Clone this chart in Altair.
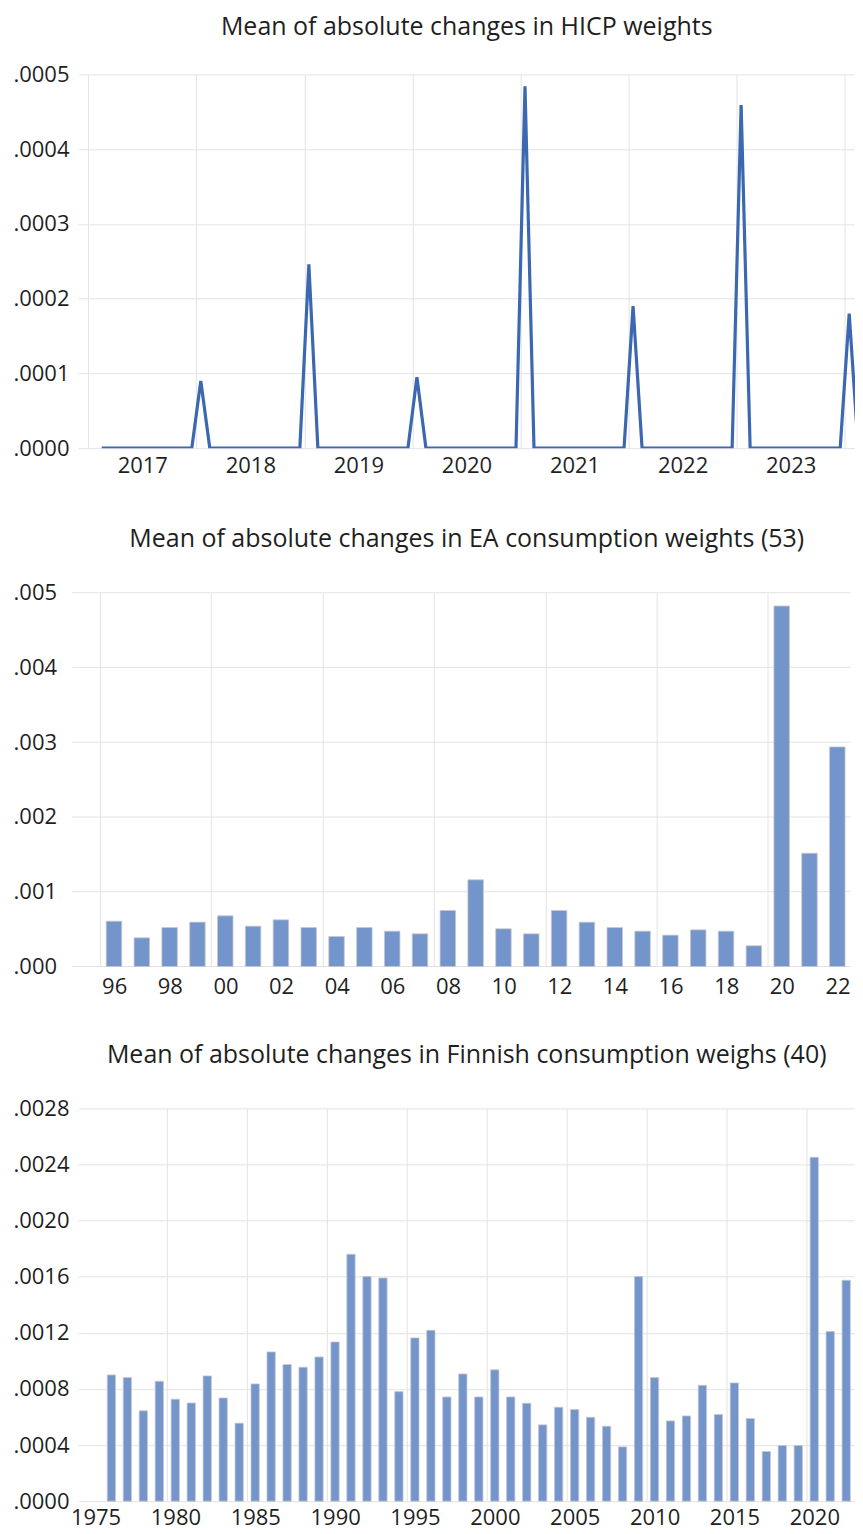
import altair as alt
import pandas as pd

FONT = "Open Sans"
TEXT = "#1f1f1f"
LINE_COLOR = "#3b68b0"
BAR_COLOR = "#7395cc"
BAR_EDGE = "#c8c8c8"
GRID = "#e3e3e3"

# ---------------- Panel 1: monthly HICP weights (Feb 2017 - Feb 2024) ----------------
hicp_start = (2017, 2)
hicp_values = [
    # 2017 Feb..Dec
    0, 0, 0, 0, 0, 0, 0, 0, 0, 0, 0,
    # 2018
    0.000090, 0, 0, 0, 0, 0, 0, 0, 0, 0, 0, 0,
    # 2019
    0.000246, 0, 0, 0, 0, 0, 0, 0, 0, 0, 0, 0,
    # 2020
    0.000095, 0, 0, 0, 0, 0, 0, 0, 0, 0, 0, 0,
    # 2021
    0.000484, 0, 0, 0, 0, 0, 0, 0, 0, 0, 0, 0,
    # 2022
    0.000190, 0, 0, 0, 0, 0, 0, 0, 0, 0, 0, 0,
    # 2023
    0.000459, 0, 0, 0, 0, 0, 0, 0, 0, 0, 0, 0,
    # 2024 Jan..Feb
    0.000180, 0,
]
hicp_years_grid = [2017, 2018, 2019, 2020, 2021, 2022, 2023, 2024]
hicp_y_ticks = [0.0, 0.0001, 0.0002, 0.0003, 0.0004, 0.0005]

# ---------------- Panel 2: EA consumption weights, annual 1996-2022 ----------------
ea_years = list(range(1996, 2023))
ea_values = [
    0.000606, 0.000383, 0.000521, 0.000593, 0.000677, 0.000539, 0.000624,
    0.000521, 0.000401, 0.000521, 0.000472, 0.000437, 0.000749, 0.001159,
    0.000504, 0.000437, 0.000749, 0.000593, 0.000521, 0.000472, 0.000419,
    0.000490, 0.000472, 0.000277, 0.004822, 0.001515, 0.002937,
]
ea_tick_positions = [1995.5, 1997.5, 1999.5, 2001.5, 2003.5, 2005.5, 2007.5,
                     2009.5, 2011.5, 2013.5, 2015.5, 2017.5, 2019.5, 2021.5]
ea_y_ticks = [0.0, 0.001, 0.002, 0.003, 0.004, 0.005]

# ---------------- Panel 3: Finnish consumption weights, annual 1976-2022 ----------------
fi_years = list(range(1976, 2023))
fi_values = [
    0.000900, 0.000881, 0.000644, 0.000855, 0.000727, 0.000700, 0.000893,
    0.000736, 0.000556, 0.000836, 0.001064, 0.000974, 0.000955, 0.001028,
    0.001135, 0.001760, 0.001601, 0.001591, 0.000781, 0.001164, 0.001218,
    0.000743, 0.000907, 0.000743, 0.000936, 0.000743, 0.000698, 0.000544,
    0.000670, 0.000653, 0.000598, 0.000534, 0.000387, 0.001601, 0.000881,
    0.000572, 0.000608, 0.000826, 0.000618, 0.000843, 0.000589, 0.000354,
    0.000397, 0.000397, 0.002451, 0.001209, 0.001575,
]
fi_tick_positions = [1974.5, 1979.5, 1984.5, 1989.5, 1994.5, 1999.5, 2004.5,
                     2009.5, 2014.5, 2019.5]
fi_y_ticks = [0.0, 0.0004, 0.0008, 0.0012, 0.0016, 0.0020, 0.0024, 0.0028]

# ---------------- tables ----------------
rows = []
y, m = hicp_start
for v in hicp_values:
    rows.append({"t": y + (m - 0.5) / 12.0, "v": v})
    m += 1
    if m > 12:
        m = 1
        y += 1
df_top = pd.DataFrame(rows)
df_mid = pd.DataFrame({"year": ea_years, "v": ea_values})
df_bot = pd.DataFrame({"year": fi_years, "v": fi_values})

PLOT_W = 778
TOP_DOM = [2016.905, 2024.1]
MID_DOM = [1994.885, 2022.474]
BOT_DOM = [1974.22, 2022.27]


def half_year_px(dom):
    return PLOT_W / (dom[1] - dom[0]) / 2.0


def y_axis(ticks, fmt, pad, grid=True):
    return alt.Axis(values=ticks, labelExpr=f"substring(format(datum.value, '{fmt}'), 1)",
                    title=None, domain=False, ticks=False, tickSize=0, labelPadding=pad,
                    grid=grid, gridColor=GRID, labelFlush=False)


def title(text, offset):
    return alt.TitleParams(text, anchor="middle", frame="group", font=FONT, fontSize=25,
                           fontWeight="normal", color=TEXT, offset=offset)


# ---- top: line ----
top = alt.Chart(df_top).mark_line(color=LINE_COLOR, strokeWidth=3.2, clip=True).encode(
    x=alt.X("t:Q", scale=alt.Scale(domain=TOP_DOM, nice=False, zero=False),
            axis=alt.Axis(values=hicp_years_grid,
                          labelExpr="datum.value >= 2024 ? '' : toString(datum.value)",
                          labelOffset=half_year_px(TOP_DOM), title=None, domain=False,
                          ticks=False, tickSize=0, grid=True, gridColor=GRID,
                          labelFlush=False, labelPadding=7)),
    y=alt.Y("v:Q", scale=alt.Scale(domain=[0, 0.0005], nice=False),
            axis=y_axis(hicp_y_ticks, ".4f", 9)),
).properties(width=PLOT_W, height=374,
             title=title("Mean of absolute changes in HICP weights", 23.5))

# ---- middle: bars (horizontal grid drawn as rules so it starts left of the plot) ----
mid_x_axis = alt.Axis(values=ea_tick_positions,
                      labelExpr="substring(toString(datum.value + 0.5), 2)",
                      labelOffset=half_year_px(MID_DOM), title=None, domain=False,
                      ticks=False, tickSize=0, grid=True, gridColor=GRID,
                      labelFlush=False, labelPadding=9.7,
                      gridOpacity={"condition": {"test": "datum.value % 4 == 3.5", "value": 1},
                                   "value": 0})
mid_y_axis = y_axis(ea_y_ticks, ".3f", 21.4, grid=False)
mid_x_scale = alt.Scale(domain=MID_DOM, nice=False, zero=False)
mid_y_scale = alt.Scale(domain=[0, 0.005], nice=False)

df_mid_grid = pd.DataFrame({"gy": ea_y_ticks, "gx0": [1994.5] * len(ea_y_ticks),
                            "gx1": [MID_DOM[1]] * len(ea_y_ticks)})
mid_grid = alt.Chart(df_mid_grid).mark_rule(color=GRID, strokeWidth=1).encode(
    x=alt.X("gx0:Q", scale=mid_x_scale, axis=mid_x_axis),
    x2="gx1:Q",
    y=alt.Y("gy:Q", scale=mid_y_scale, axis=mid_y_axis),
)
mid_bars = alt.Chart(df_mid).mark_bar(size=15.5, color=BAR_COLOR, stroke=BAR_EDGE,
                                      strokeWidth=0.8).encode(
    x=alt.X("year:Q", scale=mid_x_scale, axis=mid_x_axis),
    y=alt.Y("v:Q", scale=mid_y_scale, axis=mid_y_axis),
)
mid = alt.layer(mid_grid, mid_bars).properties(
    width=PLOT_W, height=374,
    title=title("Mean of absolute changes in EA consumption weights (53)", 29.5))

# ---- bottom: bars ----
bot = alt.Chart(df_bot).mark_bar(size=8.3, color=BAR_COLOR, stroke=BAR_EDGE,
                                 strokeWidth=0.8).encode(
    x=alt.X("year:Q", scale=alt.Scale(domain=BOT_DOM, nice=False, zero=False),
            axis=alt.Axis(values=fi_tick_positions,
                          labelExpr="toString(datum.value + 0.5)",
                          labelOffset=half_year_px(BOT_DOM), title=None, domain=False,
                          ticks=False, tickSize=0, grid=True, gridColor=GRID,
                          labelFlush=False, labelPadding=6.7,
                          gridOpacity={"condition": {"test": "datum.value > 1975", "value": 1},
                                       "value": 0})),
    y=alt.Y("v:Q", scale=alt.Scale(domain=[0, 0.0028], nice=False),
            axis=y_axis(fi_y_ticks, ".4f", 9)),
).properties(width=PLOT_W, height=393,
             title=title("Mean of absolute changes in Finnish consumption weighs (40)", 29.5))

chart = alt.vconcat(alt.vconcat(top, mid, spacing=50.6), bot, spacing=44.6).properties(
    padding={"left": 4, "top": 6, "right": -0.5, "bottom": 2}
).configure_view(stroke=None).configure_axis(
    labelFont=FONT, labelFontSize=22, labelColor=TEXT
)

chart.save("out.html", embed_options={"renderer": "svg", "actions": False})
